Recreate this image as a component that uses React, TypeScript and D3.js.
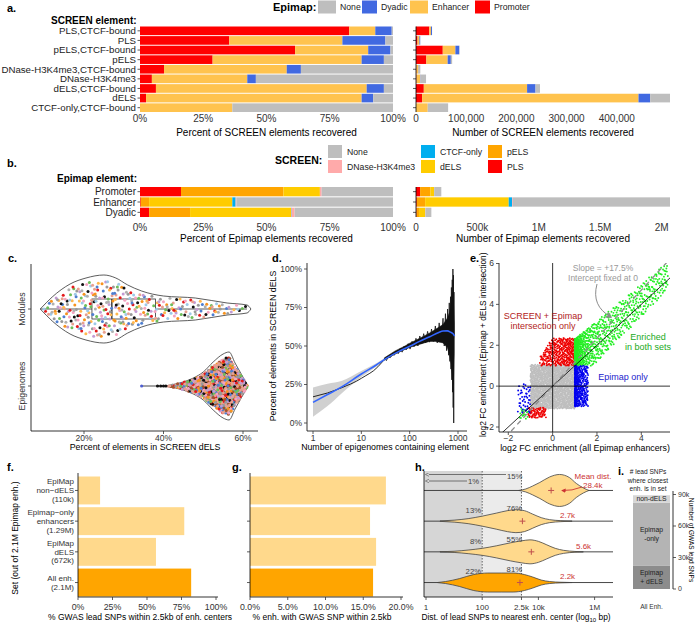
import React from "react";
import * as d3 from "d3";

const FONT = "'Liberation Sans', Arial, Helvetica, sans-serif";
const W = 697, H = 623;
const TICKC = "#333333";

// ---------------- panel a data ----------------
const aCategories = ["PLS,CTCF-bound", "PLS", "pELS,CTCF-bound", "pELS", "DNase-H3K4me3,CTCF-bound", "DNase-H3K4me3", "dELS,CTCF-bound", "dELS", "CTCF-only,CTCF-bound"];
const aPromoterPct = [82.7, 35.3, 61.3, 28.7, 9.5, 4.7, 6.3, 2.4, 0];
const aEnhancerPct = [10.3, 44.7, 28.9, 58.9, 48.5, 37.7, 83.3, 85.2, 36.5];
const aDyadicPct = [6.5, 17.0, 8.8, 8.8, 5.6, 3.4, 6.8, 4.6, 0];
const aNonePct = [0.5, 3.0, 1.0, 3.6, 36.4, 54.2, 3.6, 7.8, 63.5];
const aTotals = [32000, 8600, 87000, 72000, 8600, 20000, 247000, 506000, 64000];
const aPctTicks = [0, 25, 50, 75, 100];
const aCountTicks = [0, 100000, 200000, 300000, 400000];
const epimapLegend = ["None", "Dyadic", "Enhancer", "Promoter"];
const epimapColors = ["#BEBEBE", "#4169E1", "#FFC34E", "#FF0000"];

// ---------------- panel b data ----------------
const bCategories = ["Promoter", "Enhancer", "Dyadic"];
const bPLS = [16.2, 0.3, 3.6];
const bPELS = [40.5, 3.3, 16.2];
const bDELS = [14.4, 32.9, 39.9];
const bCTCF = [0, 1.3, 0.2];
const bDNase = [0.7, 0.3, 1.2];
const bNone = [28.2, 61.9, 38.9];
const bTotals = [206000, 2068000, 125000];
const bCountTicks = [0, 500000, 1000000, 1500000, 2000000];
const bCountTickLabels = ["0", "500k", "1M", "1.5M", "2M"];
const screenLegend = ["None", "DNase-H3K4me3", "CTCF-only", "dELS", "pELS", "PLS"];
const screenColors = ["#BEBEBE", "#FFAAAA", "#00AEEF", "#FFCC00", "#FFA500", "#FF0000"];

// ---------------- panel c data ----------------
const cModPos = [9, 12, 16.5, 20.5, 25, 28, 31, 34.5, 40, 48, 56, 61, 62];
const cModHW = [0, 12, 25, 31, 34, 31, 24, 18, 13, 11, 6, 4, 0];
const cEpiPos = [41, 44, 47.5, 50, 52.5, 55, 56.5, 58, 61.3];
const cEpiHW = [0.5, 3, 8, 14, 24, 32, 34, 23, 0];
const cModBox = [9, 22, 27, 38, 61];
const cEpiBox = [41, 53, 56, 58, 61];
const cEpiOutliers = [34.5, 38.5, 39.3, 40.0, 40.6];
const cEpiOutlierColors = ["#4F5FD0", "#111111", "#111111", "#111111", "#111111"];
const cModColors = ["#F4A3C0", "#999999", "#6DBE5A", "#F7931E", "#E41A1C", "#111111", "#4F7FD0", "#9EC9E8", "#C39BD3", "#E8A090", "#B0B0B0", "#FFB74D"];
const cEpiColors = ["#E8A090", "#111111", "#E41A1C", "#F7931E", "#6DBE5A", "#E8A090", "#C39BD3", "#999999", "#F4A3C0", "#4F7FD0", "#A0522D", "#E8A090"];
const cTicks = [20, 40, 60];

// ---------------- panel d data ----------------
const dLoessN = [1, 2, 4, 10, 20, 33, 60, 103, 160, 260, 400, 490, 600, 700, 790, 850];
const dLoessPct = [13.4, 18.5, 23.6, 31.8, 37.5, 42, 46.5, 50, 53, 56, 58.8, 59.7, 59.8, 59, 58, 56.5];
const dCILow = [4, 11, 19.5, 29.8, 36.3, 41.2, 45.8, 49.4, 52.4, 55.3, 58, 58.8, 58.7, 57.6, 56.3, 54.5];
const dCIHigh = [23, 25.5, 27.5, 33.8, 38.7, 42.8, 47.2, 50.6, 53.6, 56.7, 59.6, 60.6, 60.9, 60.4, 59.7, 58.5];
const dObsN = [1, 2, 3, 4, 5, 6, 7, 8, 10, 12, 15, 18, 22, 26, 30];
const dObsPct = [17, 19.5, 21.5, 23, 24.3, 25.3, 26.3, 27.2, 29, 30.5, 32.3, 34, 36.5, 39, 41.3];
const dEnvN = [30, 50, 80, 100, 140, 200, 260, 350, 490, 600, 670, 720, 760, 800, 833];
const dEnvHigh = [42.3, 46.8, 50, 51.8, 54, 56.5, 58.5, 61, 64, 68, 72, 78, 85, 80, 65];
const dEnvLow = [40.8, 44.8, 47.8, 49, 50.5, 52, 53, 53, 52, 49, 44, 38, 30, 25, 45];
const dNoisyN = [30, 33, 36, 40, 44, 48, 53, 58, 64, 70, 77, 85, 93, 102, 112, 123, 135, 148, 162, 178, 195, 214, 235, 258, 283, 310, 340, 372, 408, 447, 490, 520, 550, 580, 610, 640, 660, 680, 700, 715, 730, 745, 760, 772, 784, 795, 805, 815, 825, 833];
const dNoisyPct = [42, 40.5, 43, 42.5, 45, 44, 46.5, 45, 48.5, 46, 50, 47.5, 51.5, 48, 53, 49.5, 55, 50, 56.5, 51.5, 58, 52, 59.5, 52.5, 61, 53, 63, 52, 65, 53, 68, 50, 71, 47, 74, 44, 78, 40, 82, 35, 88, 28, 93, 20, 100, 10, 96, 0, 85, 57];
const dYTicks = [0, 25, 50, 75, 100];
const dXTicks = [1, 10, 100, 1000];

// ---------------- panel e data ----------------
const eClusterColor = ["#BEBEBE", "#EE0000", "#EE0000", "#22EE22", "#22EE22", "#0000EE", "#0000EE"];
const eClusterN = [1400, 330, 70, 900, 15, 330, 45];
const eClusterXMin = [-1.0, -0.6, -1.1, 1.0, -1.5, 1.0, -1.6];
const eClusterXMax = [1.0, 1.0, -0.3, 5.2, -1.1, 1.6, -1.0];
const eClusterYMin = [-1.1, 1.0, -1.55, 1.0, -1.6, -1.0, -1.3];
const eClusterYMax = [1.05, 2.35, -1.05, 6.0, -1.1, 1.0, 0.1];
const eClusterXPow = [1, 0.65, 1, 2.5, 1, 1.8, 0.8];
const eSlope = 1.175;
const eXTicks = [-2, 0, 2, 4];
const eYTicks = [-2, 0, 2, 4, 6];

// ---------------- panel f/g data ----------------
const fLabels = [["EpiMap", "non\u2212dELS", "(110k)"], ["Epimap\u2212only", "enhancers", "(1.29M)"], ["EpiMap", "dELS", "(672k)"], ["All enh.", "(2.1M)"]];
const fValues = [16, 77, 56.5, 82];
const gValues = [18.0, 15.9, 16.7, 16.3];
const fgColors = ["#FFD98C", "#FFD98C", "#FFD98C", "#FFA500"];
const fTicks = [0, 25, 50, 75, 100];
const gTicks = [0, 5, 10, 15, 20];

// ---------------- panel h data ----------------
const hLogPos = [
  [3.3, 3.55, 3.8, 4.05, 4.4, 4.75, 5.1, 5.35, 5.6, 5.8],
  [0.5, 1.0, 1.5, 2.0, 2.5, 2.9, 3.2, 3.5, 3.8, 4.1, 4.4, 4.8, 5.2],
  [0.5, 1.0, 1.5, 2.0, 2.5, 3.0, 3.4, 3.7, 4.0, 4.3, 4.6, 4.9, 5.3, 5.6],
  [0.4, 0.7, 1.2, 1.7, 2.2, 2.7, 3.1, 3.5, 3.8, 4.1, 4.4, 4.8, 5.2],
];
const hHalfWidth = [
  [0, 1.5, 4.5, 8, 13.5, 16, 13, 7, 2.5, 0],
  [0.2, 1, 2.5, 5, 8, 10.5, 11.5, 10.5, 7, 3.5, 1.5, 0.5, 0],
  [0.2, 0.6, 1.8, 3.5, 6, 9, 11, 12, 10.5, 7, 3.5, 1.5, 0.4, 0],
  [0, 1, 4, 8, 9.5, 9.5, 9.5, 8, 5.5, 2.5, 1, 0.3, 0],
];
const hMeans = [28400, 2700, 5600, 2200];
const hMeanLabels = ["28.4k", "2.7k", "5.6k", "2.2k"];
const hPct100 = ["1%", "13%", "8%", "22%"];
const hPct2500 = ["15%", "76%", "55%", "81%"];
const hTicks = [1, 100, 2500, 10000, 1000000];
const hTickLabels = ["1", "100", "2.5k", "10k", "1M"];

// ---------------- panel i data ----------------
const iSegLabels = [["Epimap", "+ dELS"], ["Epimap", "-only"], ["non-dELS"]];
const iSegValues = [22000, 60000, 7300];
const iSegColors = ["#8C8C8C", "#B4B4B4", "#D6D6D6"];
const iTicks = [0, 30000, 60000, 90000];
const iTickLabels = ["0", "30k", "60k", "90k"];

// ---------------- helpers ----------------
function halton(index: number, base: number) {
  let f = 1, r = 0, i = index;
  while (i > 0) { f /= base; r += f * (i % base); i = Math.floor(i / base); }
  return r;
}
function lerp(xs: number[], ys: number[], x: number) {
  if (x <= xs[0]) return ys[0];
  for (let k = 1; k < xs.length; k++) {
    if (x <= xs[k]) { const t = (x - xs[k - 1]) / (xs[k] - xs[k - 1]); return ys[k - 1] + t * (ys[k] - ys[k - 1]); }
  }
  return ys[ys.length - 1];
}
function violinSamples(pos: number[], hw: number[], n: number, offset: number) {
  const G = 400, a = pos[0], b = pos[pos.length - 1];
  const xs: number[] = [], cdf: number[] = [0];
  for (let k = 0; k <= G; k++) xs.push(a + (b - a) * k / G);
  for (let k = 1; k <= G; k++) cdf.push(cdf[k - 1] + (lerp(pos, hw, xs[k]) + lerp(pos, hw, xs[k - 1])) / 2);
  const tot = cdf[G];
  const out: { x: number; dy: number; i: number; c: number }[] = [];
  for (let i = 1; i <= n; i++) {
    const u = halton(i + offset, 2) * tot, v = halton(i + offset, 3);
    let k = d3.bisectLeft(cdf, u); if (k < 1) k = 1; if (k > G) k = G;
    const x = xs[k - 1] + (xs[k] - xs[k - 1]) * ((u - cdf[k - 1]) / Math.max(1e-9, cdf[k] - cdf[k - 1]));
    const w = lerp(pos, hw, x);
    out.push({ x, dy: (2 * v - 1) * w * 0.85, i, c: halton(i + offset, 7) });
  }
  return out;
}

function Txt({ x, y, s = 10, a = "start", w = "normal", c = "#000", r = 0, children }: any) {
  return (
    <text x={x} y={y} fontSize={s} textAnchor={a} fontWeight={w} fill={c} dy="0.35em"
      transform={r ? `rotate(${r},${x},${y})` : undefined}>{children}</text>
  );
}

function stackRects(cats: string[], series: number[][], colors: string[], x: (v: number) => number, y: any, scaleBy: number[] | null, key: string) {
  const out: any[] = [];
  cats.forEach((c, i) => {
    let acc = 0;
    series.forEach((s, j) => {
      const v = scaleBy ? s[i] / 100 * scaleBy[i] : s[i];
      if (v > 0) out.push(<rect key={`${key}-${i}-${j}`} x={x(acc)} y={y(c)} width={Math.max(0, x(acc + v) - x(acc))} height={y.bandwidth()} fill={colors[j]} />);
      acc += v;
    });
  });
  return out;
}

// ---------------- panel a ----------------
function PanelA() {
  const x = d3.scaleLinear().domain([0, 100]).range([140, 393]);
  const xr = d3.scaleLinear().domain([0, d3.max(aTotals) as number]).range([416, 670]);
  const y = d3.scaleBand().domain(aCategories).range([26.5, 112]).paddingInner(0.1);
  const series = [aPromoterPct, aEnhancerPct, aDyadicPct, aNonePct];
  const colors = [epimapColors[3], epimapColors[2], epimapColors[1], epimapColors[0]];
  const legX = [318, 362, 410, 475];
  const legW = [18, 15, 18, 15];
  return (
    <g>
      <Txt x={7} y={8} s={11} w="bold">a.</Txt>
      <Txt x={273} y={7} s={11} w="bold">Epimap:</Txt>
      {epimapLegend.map((l, k) => (
        <g key={l}>
          <rect x={legX[k]} y={0.5} width={legW[k]} height={13} fill={epimapColors[k]} />
          <Txt x={legX[k] + legW[k] + 4} y={7} s={8.7} c="#222">{l}</Txt>
        </g>
      ))}
      <Txt x={51} y={20} s={10} w="bold">SCREEN element:</Txt>
      {stackRects(aCategories, series, colors, x, y, null, "al")}
      {stackRects(aCategories, series, colors, xr, y, aTotals, "ar")}
      {aCategories.map((c) => (
        <g key={c}>
          <Txt x={136} y={(y(c) as number) + y.bandwidth() / 2} s={9.7} a="end" c="#222">{c}</Txt>
          <line x1={137.5} x2={140} y1={(y(c) as number) + y.bandwidth() / 2} y2={(y(c) as number) + y.bandwidth() / 2} stroke={TICKC} strokeWidth={0.8} />
          <line x1={413} x2={416} y1={(y(c) as number) + y.bandwidth() / 2} y2={(y(c) as number) + y.bandwidth() / 2} stroke={TICKC} strokeWidth={0.8} />
        </g>
      ))}
      <line x1={416} x2={416} y1={26.5} y2={112} stroke="#000" strokeWidth={0.8} />
      {aPctTicks.map((t) => <Txt key={t} x={x(t)} y={118} s={10} a="middle" c="#333">{t + "%"}</Txt>)}
      {aCountTicks.map((t) => <Txt key={t} x={xr(t)} y={118} s={10} a="middle" c="#333">{d3.format(",")(t)}</Txt>)}
      <Txt x={266.5} y={132} s={10} a="middle">Percent of SCREEN elements recovered</Txt>
      <Txt x={543} y={132} s={10} a="middle">Number of SCREEN elements recovered</Txt>
    </g>
  );
}

// ---------------- panel b ----------------
function PanelB() {
  const x = d3.scaleLinear().domain([0, 100]).range([140, 393]);
  const xr = d3.scaleLinear().domain([0, d3.max(bTotals) as number]).range([416, 670]);
  const y = d3.scaleBand().domain(bCategories).range([187, 217]).paddingInner(0.1);
  const series = [bPLS, bPELS, bDELS, bCTCF, bDNase, bNone];
  const colors = [screenColors[5], screenColors[4], screenColors[3], screenColors[2], screenColors[1], screenColors[0]];
  const colX = [328, 421, 488];
  const rowY = [145, 160];
  return (
    <g>
      <Txt x={7} y={163} s={11} w="bold">b.</Txt>
      <Txt x={275} y={160} s={10.5} w="bold">SCREEN:</Txt>
      {screenLegend.map((l, k) => {
        const cx = colX[Math.floor(k / 2)], cy = rowY[k % 2];
        return (
          <g key={l}>
            <rect x={cx} y={cy} width={14} height={13} fill={screenColors[k]} />
            <Txt x={cx + 19} y={cy + 7} s={8.7} c="#222">{l}</Txt>
          </g>
        );
      })}
      <Txt x={57} y={178} s={10} w="bold">Epimap element:</Txt>
      {stackRects(bCategories, series, colors, x, y, null, "bl")}
      {stackRects(bCategories, series, colors, xr, y, bTotals, "br")}
      {bCategories.map((c) => {
        const cy = (y(c) as number) + y.bandwidth() / 2;
        return (
          <g key={c}>
            <Txt x={136} y={cy} s={10} a="end" c="#222">{c}</Txt>
            <line x1={137.5} x2={140} y1={cy} y2={cy} stroke={TICKC} strokeWidth={0.8} />
            <line x1={413} x2={416} y1={cy} y2={cy} stroke={TICKC} strokeWidth={0.8} />
          </g>
        );
      })}
      <line x1={416} x2={416} y1={187} y2={217} stroke="#000" strokeWidth={0.8} />
      {aPctTicks.map((t) => <Txt key={t} x={x(t)} y={227} s={10} a="middle" c="#333">{t + "%"}</Txt>)}
      {bCountTicks.map((t, k) => <Txt key={t} x={xr(t)} y={227} s={10} a="middle" c="#333">{bCountTickLabels[k]}</Txt>)}
      <Txt x={266.5} y={238} s={10} a="middle">Percent of Epimap elements recovered</Txt>
      <Txt x={543} y={238} s={10} a="middle">Number of Epimap elements recovered</Txt>
    </g>
  );
}

// ---------------- panel c ----------------
function PanelC() {
  const x = d3.scaleLinear().domain([20, 60]).range([84, 243]);
  const yMod = 309, yEpi = 386;
  const vpath = (pos: number[], hw: number[], cy: number) =>
    d3.area<number>().x((_, k) => x(pos[k])).y0((_, k) => cy - hw[k]).y1((_, k) => cy + hw[k]).curve(d3.curveMonotoneX)(pos) as string;
  const modPts = violinSamples(cModPos, cModHW, 330, 7);
  const epiPts = violinSamples(cEpiPos, cEpiHW, 830, 911);
  const box = (b: number[], cy: number, h: number) => (
    <g stroke="#333" strokeWidth={0.8} fill="none">
      <line x1={x(b[0])} x2={x(b[1])} y1={cy} y2={cy} />
      <line x1={x(b[3])} x2={x(b[4])} y1={cy} y2={cy} />
      <rect x={x(b[1])} y={cy - h} width={x(b[3]) - x(b[1])} height={2 * h} />
      <line x1={x(b[2])} x2={x(b[2])} y1={cy - h} y2={cy + h} strokeWidth={1.4} />
    </g>
  );
  return (
    <g>
      <Txt x={8} y={258} s={11} w="bold">c.</Txt>
      <path d={vpath(cModPos, cModHW, yMod)} fill="#fff" stroke="#333" strokeWidth={0.8} />
      <path d={vpath(cEpiPos, cEpiHW, yEpi)} fill="#fff" stroke="#333" strokeWidth={0.8} />
      {box(cModBox, yMod, 10)}
      <line x1={x(cEpiOutliers[0])} x2={x(cEpiBox[1])} y1={yEpi} y2={yEpi} stroke="#333" strokeWidth={0.9} />
      {box(cEpiBox, yEpi, 8)}
      {modPts.map((p) => <circle key={"m" + p.i} cx={x(p.x)} cy={yMod + p.dy} r={1.5} fill={cModColors[Math.floor(p.c * cModColors.length)]} />)}
      {epiPts.map((p) => <circle key={"e" + p.i} cx={x(p.x)} cy={yEpi + p.dy} r={1.5} fill={cEpiColors[Math.floor(p.c * cEpiColors.length)]} />)}
      {cEpiOutliers.map((o, k) => <circle key={"o" + k} cx={x(o)} cy={yEpi} r={1.6} fill={cEpiOutlierColors[k]} />)}
      <line x1={31} x2={31} y1={264} y2={431} stroke="#000" strokeWidth={0.8} />
      <line x1={31} x2={258} y1={431} y2={431} stroke="#000" strokeWidth={0.8} />
      {cTicks.map((t) => (
        <g key={t}>
          <line x1={x(t)} x2={x(t)} y1={431} y2={434} stroke={TICKC} strokeWidth={0.8} />
          <Txt x={x(t)} y={438} s={8.5} a="middle" c="#333">{t + "%"}</Txt>
        </g>
      ))}
      {[yMod, yEpi].map((yy) => <line key={yy} x1={28} x2={31} y1={yy} y2={yy} stroke={TICKC} strokeWidth={0.8} />)}
      <Txt x={22} y={yMod} s={8.8} a="middle" r={-90} c="#333">Modules</Txt>
      <Txt x={22} y={yEpi} s={8.8} a="middle" r={-90} c="#333">Epigenomes</Txt>
      <Txt x={145} y={447} s={8.8} a="middle">Percent of elements in SCREEN dELS</Txt>
    </g>
  );
}

// ---------------- panel d ----------------
function PanelD() {
  const x = d3.scaleLog().domain([1, 1000]).range([313, 458]);
  const y = d3.scaleLinear().domain([0, 100]).range([423, 269]);
  const ci = d3.area<number>().x((n) => x(n)).y0((_, k) => y(dCILow[k])).y1((_, k) => y(dCIHigh[k])).curve(d3.curveMonotoneX)(dLoessN) as string;
  const loess = d3.line<number>().x((n) => x(n)).y((_, k) => y(dLoessPct[k])).curve(d3.curveMonotoneX)(dLoessN) as string;
  const obs = d3.line<number>().x((n) => x(n)).y((_, k) => y(dObsPct[k]))(dObsN) as string;
  const env = d3.area<number>().x((n) => x(n)).y0((_, k) => y(dEnvLow[k])).y1((_, k) => y(dEnvHigh[k]))(dEnvN) as string;
  const noisy = d3.line<number>().x((n) => x(n)).y((_, k) => y(dNoisyPct[k]))(dNoisyN) as string;
  return (
    <g>
      <Txt x={272} y={258} s={11} w="bold">d.</Txt>
      <path d={ci} fill="#C8C8C8" opacity={0.85} />
      <path d={obs} fill="none" stroke="#111" strokeWidth={0.9} />
      <path d={env} fill="#111" stroke="#111" strokeWidth={0.5} />
      <path d={noisy} fill="none" stroke="#111" strokeWidth={0.8} />
      <path d={loess} fill="none" stroke="#3366FF" strokeWidth={1.6} />
      <line x1={307} x2={307} y1={263} y2={431} stroke="#000" strokeWidth={0.8} />
      <line x1={307} x2={467} y1={431} y2={431} stroke="#000" strokeWidth={0.8} />
      {dYTicks.map((t) => (
        <g key={t}>
          <line x1={304} x2={307} y1={y(t)} y2={y(t)} stroke={TICKC} strokeWidth={0.8} />
          <Txt x={302} y={y(t)} s={8.5} a="end" c="#333">{t + "%"}</Txt>
        </g>
      ))}
      {dXTicks.map((t) => (
        <g key={t}>
          <line x1={x(t)} x2={x(t)} y1={431} y2={434} stroke={TICKC} strokeWidth={0.8} />
          <Txt x={x(t)} y={438} s={8.5} a="middle" c="#333">{String(t)}</Txt>
        </g>
      ))}
      <Txt x={273} y={346} s={8.8} a="middle" r={-90}>Percent of elements in SCREEN dELS</Txt>
      <Txt x={385} y={447} s={8.8} a="middle">Number of epigenomes containing element</Txt>
    </g>
  );
}

// ---------------- panel e ----------------
function PanelE() {
  const x = d3.scaleLinear().domain([-2, 4]).range([508.3, 641.3]);
  const y = d3.scaleLinear().domain([-2, 6]).range([427, 263.5]);
  const L = 499, R = 670, T = 263, B = 432;
  const pts: any[] = [];
  let off = 3;
  eClusterN.forEach((n, k) => {
    for (let i = 1; i <= n; i++) {
      const u = halton(i + off, 2), v = halton(i + off, 3);
      const xx = eClusterXMin[k] + (eClusterXMax[k] - eClusterXMin[k]) * Math.pow(u, eClusterXPow[k]);
      let lo = eClusterYMin[k], hi = eClusterYMax[k];
      if (k === 3) { lo = Math.max(1.0, 1.1 * xx - 1.0); hi = Math.min(6.0, 0.9 * xx + 1.4); }
      if (k === 1 && xx < 0) hi = 2.35 + 1.6 * xx;
      const yy = lo + (hi - lo) * v;
      pts.push(<circle key={`p${k}-${i}`} cx={x(xx)} cy={y(yy)} r={0.95} fill={eClusterColor[k]} />);
    }
    off += n + 17;
  });
  const xLo = x.invert(L), xHi = x.invert(R);
  return (
    <g>
      <defs>
        <clipPath id="eclip"><rect x={L} y={T} width={R - L} height={B - T} /></clipPath>
        <marker id="garrow" viewBox="0 0 10 10" refX="8" refY="5" markerWidth="7" markerHeight="7" orient="auto">
          <path d="M0,0 L10,5 L0,10 L3,5 z" fill="#8C8C8C" />
        </marker>
      </defs>
      <Txt x={470} y={258} s={11} w="bold">e.</Txt>
      <g clipPath="url(#eclip)">
        {pts}
        <line x1={x(0)} x2={x(0)} y1={T} y2={B} stroke="#000" strokeWidth={0.8} />
        <line x1={L} x2={R} y1={y(0)} y2={y(0)} stroke="#000" strokeWidth={0.8} />
        <line x1={x(xLo)} y1={y(xLo)} x2={x(xHi)} y2={y(xHi)} stroke="#000" strokeWidth={0.8} />
        <line x1={x(xLo)} y1={y(xLo * eSlope)} x2={x(xHi)} y2={y(xHi * eSlope)} stroke="#8C8C8C" strokeWidth={1.3} strokeDasharray="5,4" />
      </g>
      <line x1={L} x2={L} y1={T} y2={B} stroke="#000" strokeWidth={0.8} />
      <line x1={L} x2={R} y1={B} y2={B} stroke="#000" strokeWidth={0.8} />
      {eXTicks.map((t) => (
        <g key={t}>
          <line x1={x(t)} x2={x(t)} y1={B} y2={B + 3} stroke={TICKC} strokeWidth={0.8} />
          <Txt x={x(t)} y={438} s={8.5} a="middle" c="#333">{t < 0 ? "\u2212" + Math.abs(t) : String(t)}</Txt>
        </g>
      ))}
      {eYTicks.map((t) => (
        <g key={t}>
          <line x1={L - 3} x2={L} y1={y(t)} y2={y(t)} stroke={TICKC} strokeWidth={0.8} />
          <Txt x={L - 5} y={y(t)} s={8.5} a="end" c="#333">{t < 0 ? "\u2212" + Math.abs(t) : String(t)}</Txt>
        </g>
      ))}
      <text x={483} y={437} fontSize={8.4} transform="rotate(-90,483,437)" dy="0.35em">log2 FC enrichment (Epimap + dELS intersection)</text>
      <Txt x={585} y={448} s={8.8} a="middle">log2 FC enrichment (all Epimap enhancers)</Txt>
      <Txt x={603} y={268} s={8.5} a="middle" c="#999">Slope = +17.5%</Txt>
      <Txt x={603} y={278} s={8.5} a="middle" c="#999">Intercept fixed at 0</Txt>
      <path d="M597,284 Q591,306 611,317" fill="none" stroke="#8C8C8C" strokeWidth={1} markerEnd="url(#garrow)" />
      <Txt x={543} y={316} s={9} a="middle" c="#B22222">SCREEN + Epimap</Txt>
      <Txt x={543} y={325.5} s={9} a="middle" c="#B22222">intersection only</Txt>
      <Txt x={648} y={337} s={9} a="middle" c="#22AA22">Enriched</Txt>
      <Txt x={648} y={346.5} s={9} a="middle" c="#22AA22">in both sets</Txt>
      <Txt x={623} y={377} s={9} a="middle" c="#2222CC">Epimap only</Txt>
    </g>
  );
}

// ---------------- panel f & g ----------------
const fgBand = d3.scaleBand<number>().domain([0, 1, 2, 3]).range([476.5, 596.5]).paddingInner(0.09);

function PanelF() {
  const x = d3.scaleLinear().domain([0, 100]).range([78, 216]);
  return (
    <g>
      <Txt x={7} y={467} s={11} w="bold">f.</Txt>
      {fValues.map((v, k) => <rect key={k} x={x(0)} y={fgBand(k)} width={x(v) - x(0)} height={fgBand.bandwidth()} fill={fgColors[k]} />)}
      <line x1={78} x2={78} y1={473} y2={597} stroke="#000" strokeWidth={0.8} />
      <line x1={78} x2={218} y1={597} y2={597} stroke="#000" strokeWidth={0.8} />
      {fLabels.map((lines, k) => {
        const cy = (fgBand(k) as number) + fgBand.bandwidth() / 2;
        return (
          <g key={k}>
            <line x1={75} x2={78} y1={cy} y2={cy} stroke={TICKC} strokeWidth={0.8} />
            {lines.map((ln, j) => <Txt key={j} x={74} y={cy + (j - (lines.length - 1) / 2) * 8.8} s={8} a="end" c="#333">{ln}</Txt>)}
          </g>
        );
      })}
      {fTicks.map((t) => (
        <g key={t}>
          <line x1={x(t)} x2={x(t)} y1={597} y2={600} stroke={TICKC} strokeWidth={0.8} />
          <Txt x={x(t)} y={607} s={8.8} a="middle" c="#333">{t + "%"}</Txt>
        </g>
      ))}
      <Txt x={15} y={538} s={8.5} a="middle" r={-90}>Set (out of 2.1M Epimap enh.)</Txt>
      <Txt x={140} y={617} s={8.5} a="middle">% GWAS lead SNPs within 2.5kb of enh. centers</Txt>
    </g>
  );
}

function PanelG() {
  const x = d3.scaleLinear().domain([0, 20]).range([250, 401]);
  return (
    <g>
      <Txt x={232} y={467} s={11} w="bold">g.</Txt>
      {gValues.map((v, k) => <rect key={k} x={x(0)} y={fgBand(k)} width={x(v) - x(0)} height={fgBand.bandwidth()} fill={fgColors[k]} />)}
      <line x1={250} x2={250} y1={473} y2={597} stroke="#000" strokeWidth={0.8} />
      <line x1={250} x2={403} y1={597} y2={597} stroke="#000" strokeWidth={0.8} />
      {gValues.map((_, k) => {
        const cy = (fgBand(k) as number) + fgBand.bandwidth() / 2;
        return <line key={k} x1={247} x2={250} y1={cy} y2={cy} stroke={TICKC} strokeWidth={0.8} />;
      })}
      {gTicks.map((t) => (
        <g key={t}>
          <line x1={x(t)} x2={x(t)} y1={597} y2={600} stroke={TICKC} strokeWidth={0.8} />
          <Txt x={x(t)} y={607} s={8.8} a="middle" c="#333">{t.toFixed(1) + "%"}</Txt>
        </g>
      ))}
      <Txt x={322} y={617} s={8.5} a="middle">% enh. with GWAS SNP within 2.5kb</Txt>
    </g>
  );
}

// ---------------- panel h ----------------
function PanelH() {
  const x = d3.scaleLog().domain([1, 1e6]).range([426, 594.6]);
  const xl = (p: number) => x(Math.pow(10, p));
  const L = 424, R = 613, T = 471, B = 597;
  const rowY = [0, 1, 2, 3].map((k) => (fgBand(k) as number) + fgBand.bandwidth() / 2);
  const vpath = (pos: number[], hw: number[], cy: number) =>
    d3.area<number>().x((p) => xl(p)).y0((_, k) => cy - hw[k]).y1((_, k) => cy + hw[k]).curve(d3.curveMonotoneX)(pos) as string;
  return (
    <g>
      <defs>
        <marker id="harrow" viewBox="0 0 10 10" refX="1" refY="5" markerWidth="5" markerHeight="5" orient="auto-start-reverse">
          <path d="M0,0 L10,5 L0,10" fill="none" stroke="#555" strokeWidth={1.5} />
        </marker>
        <marker id="rarrow" viewBox="0 0 10 10" refX="8" refY="5" markerWidth="5" markerHeight="5" orient="auto">
          <path d="M0,0 L10,5 L0,10 z" fill="#CC3333" />
        </marker>
      </defs>
      <Txt x={415} y={467} s={11} w="bold">h.</Txt>
      <rect x={L} y={T} width={x(100) - L} height={B - T} fill="#D6D6D6" />
      <rect x={x(100)} y={T} width={x(2500) - x(100)} height={B - T} fill="#EBEBEB" />
      <line x1={x(100)} x2={x(100)} y1={T} y2={B} stroke="#555" strokeWidth={0.9} strokeDasharray="1.5,1.5" />
      <line x1={x(2500)} x2={x(2500)} y1={T} y2={B} stroke="#555" strokeWidth={0.9} strokeDasharray="1.5,1.5" />
      {rowY.map((cy, k) => (
        <g key={k}>
          <line x1={L} x2={R} y1={cy} y2={cy} stroke="#333" strokeWidth={0.9} />
          <path d={vpath(hLogPos[k], hHalfWidth[k], cy)} fill={fgColors[k]} stroke="#444" strokeWidth={0.8} />
          <g stroke="#C0504D" strokeWidth={1}>
            <line x1={x(hMeans[k]) - 3} x2={x(hMeans[k]) + 3} y1={cy} y2={cy} />
            <line x1={x(hMeans[k])} x2={x(hMeans[k])} y1={cy - 3} y2={cy + 3} />
          </g>
        </g>
      ))}
      {[1, 2, 3].map((k) => (
        <g key={"p" + k}>
          <Txt x={481} y={rowY[k] - 11} s={7.7} a="end" c="#444">{hPct100[k]}</Txt>
          <Txt x={522} y={rowY[k] - 13} s={7.7} a="end" c="#444">{hPct2500[k]}</Txt>
          <Txt x={k === 2 ? 576 : 560} y={rowY[k] - 6} s={8} c="#CC3333">{hMeanLabels[k]}</Txt>
        </g>
      ))}
      <line x1={429} x2={506} y1={474.5} y2={474.5} stroke="#555" strokeWidth={0.8} markerStart="url(#harrow)" />
      <line x1={429} x2={467} y1={481} y2={481} stroke="#555" strokeWidth={0.8} markerStart="url(#harrow)" />
      <Txt x={507} y={476.5} s={7.7} c="#444">{hPct2500[0]}</Txt>
      <Txt x={468} y={481.5} s={7.7} c="#444">{hPct100[0]}</Txt>
      <Txt x={593} y={476} s={8} a="middle" c="#CC3333">Mean dist.</Txt>
      <Txt x={583} y={485.5} s={8} c="#CC3333">{hMeanLabels[0]}</Txt>
      <path d="M582,487 Q572,491 562,490.5" fill="none" stroke="#CC3333" strokeWidth={0.9} markerEnd="url(#rarrow)" />
      <line x1={L} x2={L} y1={T} y2={B} stroke="#000" strokeWidth={0.8} />
      <line x1={L} x2={R} y1={B} y2={B} stroke="#000" strokeWidth={0.8} />
      {hTicks.map((t, k) => (
        <g key={t}>
          <line x1={x(t)} x2={x(t)} y1={B} y2={B + 3} stroke={TICKC} strokeWidth={0.8} />
          <Txt x={x(t)} y={607} s={8} a="middle" c="#333">{hTickLabels[k]}</Txt>
        </g>
      ))}
      <text x={516} y={617} fontSize={8.4} textAnchor="middle" dy="0.35em">Dist. of lead SNPs to nearest enh. center (log<tspan fontSize={6} dy="2">10</tspan><tspan dy="-2"> bp)</tspan></text>
    </g>
  );
}

// ---------------- panel i ----------------
function PanelI() {
  const y = d3.scaleLinear().domain([0, 90000]).range([589, 494.5]);
  const x0 = 633, x1 = 670;
  let acc = 0;
  const segs = iSegValues.map((v, k) => {
    const s = { y0: y(acc), y1: y(acc + v), k };
    acc += v;
    return s;
  });
  return (
    <g>
      <Txt x={618} y={471} s={11} w="bold">i.</Txt>
      <Txt x={648} y={472} s={6.6} a="middle" c="#222"># lead SNPs</Txt>
      <Txt x={648} y={480.5} s={6.6} a="middle" c="#222">where closest</Txt>
      <Txt x={648} y={489} s={6.6} a="middle" c="#222">enh. is in set</Txt>
      {segs.map((s) => (
        <g key={s.k}>
          <rect x={x0} y={s.y1} width={x1 - x0} height={s.y0 - s.y1} fill={iSegColors[s.k]} />
          {iSegLabels[s.k].map((ln, j) => (
            <Txt key={j} x={(x0 + x1) / 2} y={(s.y0 + s.y1) / 2 + (j - (iSegLabels[s.k].length - 1) / 2) * 9} s={6.8} a="middle" c="#222">{ln}</Txt>
          ))}
        </g>
      ))}
      <line x1={673} x2={673} y1={491} y2={589} stroke="#000" strokeWidth={0.8} />
      {iTicks.map((t, k) => (
        <g key={t}>
          <line x1={673} x2={676} y1={y(t)} y2={y(t)} stroke={TICKC} strokeWidth={0.8} />
          <Txt x={678} y={y(t)} s={7} c="#333">{iTickLabels[k]}</Txt>
        </g>
      ))}
      <Txt x={651.5} y={607} s={6.6} a="middle" c="#333">All Enh.</Txt>
      <Txt x={691} y={540} s={6.5} a="middle" r={90}>Number of GWAS lead SNPs</Txt>
    </g>
  );
}

export default function App() {
  return (
    <svg width={W} height={H} viewBox={`0 0 ${W} ${H}`} fontFamily={FONT}
      style={{ position: "absolute", left: 0, top: 0, background: "#fff", display: "block" }}>
      <rect width={W} height={H} fill="#fff" />
      <PanelA />
      <PanelB />
      <PanelC />
      <PanelD />
      <PanelE />
      <PanelF />
      <PanelG />
      <PanelH />
      <PanelI />
    </svg>
  );
}
